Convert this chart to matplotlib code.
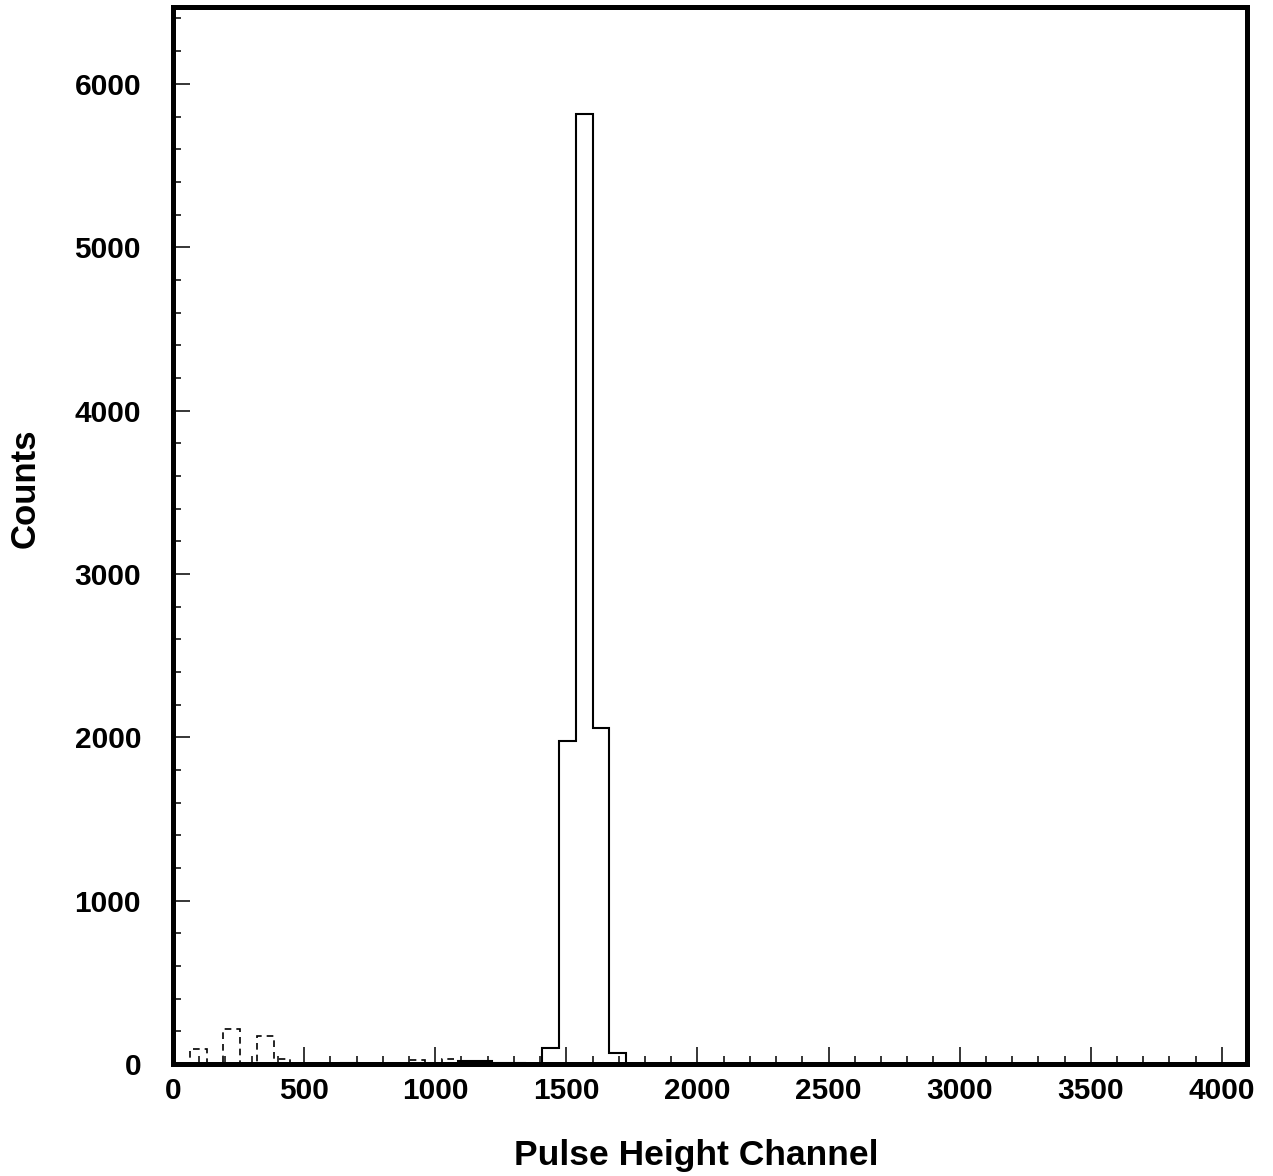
import numpy as np
import matplotlib
matplotlib.use("Agg")
import matplotlib.pyplot as plt
from matplotlib.ticker import MultipleLocator

plt.rcParams.update({
    "font.family": ["Liberation Sans", "DejaVu Sans"],
    "font.weight": "bold",
})

# 64 channels per bin, 0..4096
BIN_WIDTH = 64
N_BINS = 64

solid_counts = [
    0, 0, 0, 0, 0, 0, 0, 0, 0, 0, 8, 0, 0, 0, 0, 0,
    0, 20, 20, 8, 6, 0, 100, 1975, 5816, 2055, 68, 0, 0, 0, 0, 0,
    0, 0, 0, 0, 0, 0, 0, 0, 0, 0, 0, 0, 0, 0, 0, 0,
    0, 0, 0, 0, 0, 0, 0, 0, 0, 0, 0, 0, 0, 0, 0, 0,
]
dashed_counts = [
    0, 92, 0, 214, 0, 171, 28, 0, 0, 0, 0, 0, 0, 0, 24, 0,
    30, 0, 0, 0, 0, 0, 0, 0, 0, 0, 0, 0, 0, 0, 0, 0,
    0, 0, 0, 0, 0, 0, 0, 0, 0, 0, 0, 0, 0, 0, 0, 0,
    0, 0, 0, 0, 0, 0, 0, 0, 0, 0, 0, 0, 0, 0, 0, 0,
]

X_LABEL = "Pulse Height Channel"
Y_LABEL = "Counts"


def make_plot():
    edges = np.arange(N_BINS + 1) * BIN_WIDTH
    fig = plt.figure(figsize=(12.73, 11.76), dpi=100)
    ax = fig.add_axes([0.1359, 0.0952, 0.9796 - 0.1359, 0.994 - 0.0952])

    ax.stairs(solid_counts, edges, color="black", linewidth=1.5)
    ax.stairs(dashed_counts, edges, color="black", linewidth=1.2,
              linestyle=(0, (4, 3)))

    ax.set_xlim(0, 4096)
    ax.set_ylim(0, 6470)
    ax.xaxis.set_major_locator(MultipleLocator(500))
    ax.xaxis.set_minor_locator(MultipleLocator(100))
    ax.yaxis.set_major_locator(MultipleLocator(1000))
    ax.yaxis.set_minor_locator(MultipleLocator(200))

    for s in ax.spines.values():
        s.set_linewidth(3.6)
    ax.tick_params(which="both", direction="in", top=False, right=False, width=1.1)
    ax.tick_params(which="major", length=12.5)
    ax.tick_params(which="minor", length=5.8)
    ax.tick_params(axis="x", which="major", labelsize=21.5, pad=9)
    ax.tick_params(axis="y", which="major", labelsize=21.5, pad=23)
    for lab in ax.get_xticklabels() + ax.get_yticklabels():
        lab.set_fontweight("bold")

    fig.text(696 / 1273, 1 - 1155 / 1176, X_LABEL, ha="center", va="center",
             fontsize=25.5, fontweight="bold")
    fig.text(25 / 1273, 1 - 488 / 1176, Y_LABEL, ha="center", va="center",
             rotation=90, fontsize=25, fontweight="bold")

    fig.savefig("out.png", dpi=100, facecolor="white")
    plt.close(fig)


if __name__ == "__main__":
    make_plot()
